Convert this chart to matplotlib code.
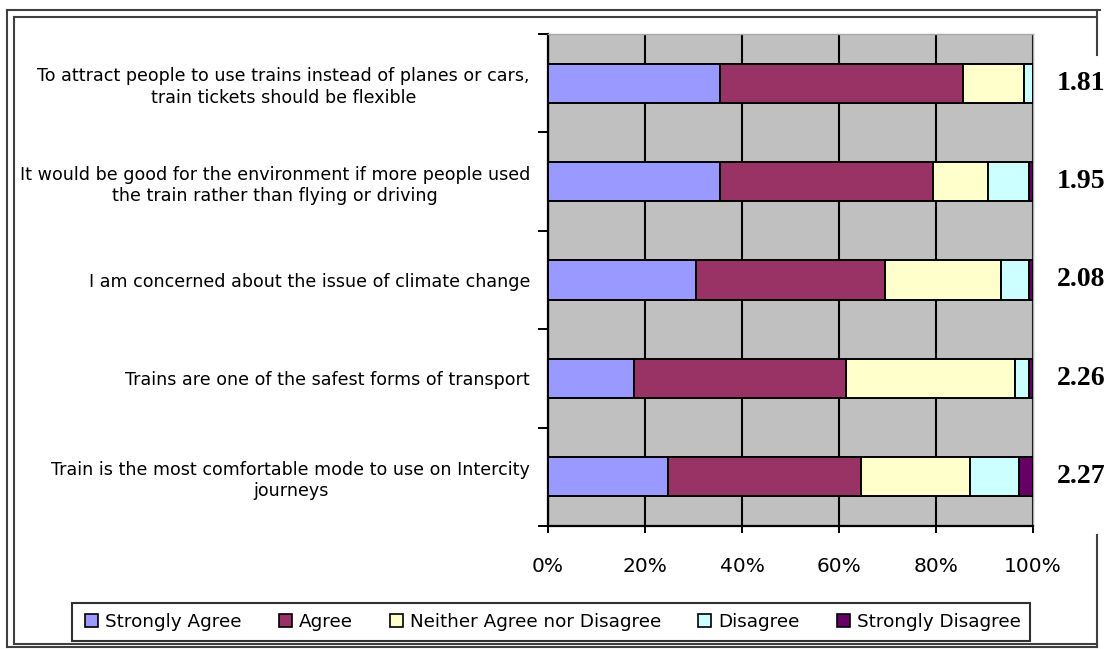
import matplotlib.pyplot as plt
import numpy as np
from matplotlib.lines import Line2D
from matplotlib.patches import Rectangle, Patch

statements = [
    "To attract people to use trains instead of planes or cars,\ntrain tickets should be flexible",
    "It would be good for the environment if more people used\nthe train rather than flying or driving",
    "I am concerned about the issue of climate change",
    "Trains are one of the safest forms of transport",
    "Train is the most comfortable mode to use on Intercity\njourneys",
]
mean_scores = ["1.81", "1.95", "2.08", "2.26", "2.27"]
responses = ["Strongly Agree", "Agree", "Neither Agree nor Disagree",
             "Disagree", "Strongly Disagree"]

# percentages per statement
strongly_agree = [35.5, 35.5, 30.5, 17.8, 24.8]
agree = [50.0, 43.8, 38.9, 43.7, 39.7]
neither = [12.7, 11.5, 23.9, 34.7, 22.6]
disagree = [1.8, 8.3, 5.9, 3.0, 10.0]
strongly_disagree = [0.0, 0.9, 0.8, 0.8, 2.9]
colors = ["#9999FF", "#993366", "#FFFFCC", "#CCFFFF", "#660066"]

W, H = 1110, 649
fig = plt.figure(figsize=(W / 100, H / 100), dpi=100)


def fx(px):
    return px / W


def fy(py):
    return 1 - py / H


ax = fig.add_axes([fx(548), fy(526), fx(1033) - fx(548), fy(34) - fy(526)])
ax.set_facecolor("#C0C0C0")

y = np.arange(len(statements))
left = np.zeros(len(statements))
series = [strongly_agree, agree, neither, disagree, strongly_disagree]
for vals, c in zip(series, colors):
    ax.barh(y, vals, left=left, height=0.4, color=c, edgecolor="black",
            linewidth=1.4, zorder=3)
    left += np.array(vals)

ax.set_xlim(0, 100)
ax.set_ylim(4.5, -0.5)
ax.set_xticks([0, 20, 40, 60, 80, 100])
ax.set_xticklabels([f"{v}%" for v in [0, 20, 40, 60, 80, 100]],
                   fontsize=14.5, family="DejaVu Sans")
ax.tick_params(axis="x", length=5, width=1.4, pad=17, color="black")
ax.grid(axis="x", color="black", linewidth=1.5, zorder=1)
ax.set_axisbelow(True)

ax.set_yticks(y)
ax.set_yticklabels(statements, fontsize=12.6, family="DejaVu Sans",
                   linespacing=1.25)
ax.tick_params(axis="y", which="major", length=0, pad=13)
ax.set_yticks(np.arange(-0.5, 5, 1), minor=True)
ax.tick_params(axis="y", which="minor", length=7, width=1.4, color="black")
for lbl in ax.get_yticklabels():
    lbl.set_multialignment("center")

for s in ["left", "bottom"]:
    ax.spines[s].set_color("black")
    ax.spines[s].set_linewidth(1.6)
for s in ["top", "right"]:
    ax.spines[s].set_color("#A8A8A8")
    ax.spines[s].set_linewidth(1.0)

# mean score beside each bar
for yi, m in zip(y, mean_scores):
    ax.text(1.049, yi, m, transform=ax.get_yaxis_transform(), ha="left",
            va="center", fontsize=20, fontweight="bold",
            family="Liberation Serif", clip_on=False)

# legend box
fig.add_artist(Rectangle((fx(72), fy(641)), fx(1030) - fx(72), fy(603) - fy(641),
                         transform=fig.transFigure, fill=False,
                         edgecolor="#303030", linewidth=1.5))
handles = [Patch(facecolor=c, edgecolor="black", linewidth=1.2) for c in colors]
fig.legend(handles, responses, loc="center", bbox_to_anchor=(fx(553), fy(622)),
           ncol=5, frameon=False, handlelength=0.72, handleheight=0.72,
           handletextpad=0.4, columnspacing=2.0,
           prop={"family": "DejaVu Sans", "size": 13.2})

# chart frame
fc = "#404040"
frame_lines = [
    ((7, 7), (10, 647)), ((14, 14), (17, 644)),
    ((7, 1100), (10, 10)), ((14, 1097), (17, 17)),
    ((7, 1097), (647, 647)), ((14, 1097), (644, 644)),
    ((1097, 1097), (10, 55)), ((1097, 1097), (535, 647)),
]
for xs, ys in frame_lines:
    fig.add_artist(Line2D([fx(v) for v in xs], [fy(v) for v in ys],
                          transform=fig.transFigure, color=fc, linewidth=1.5))

fig.savefig("out.png", dpi=100)
